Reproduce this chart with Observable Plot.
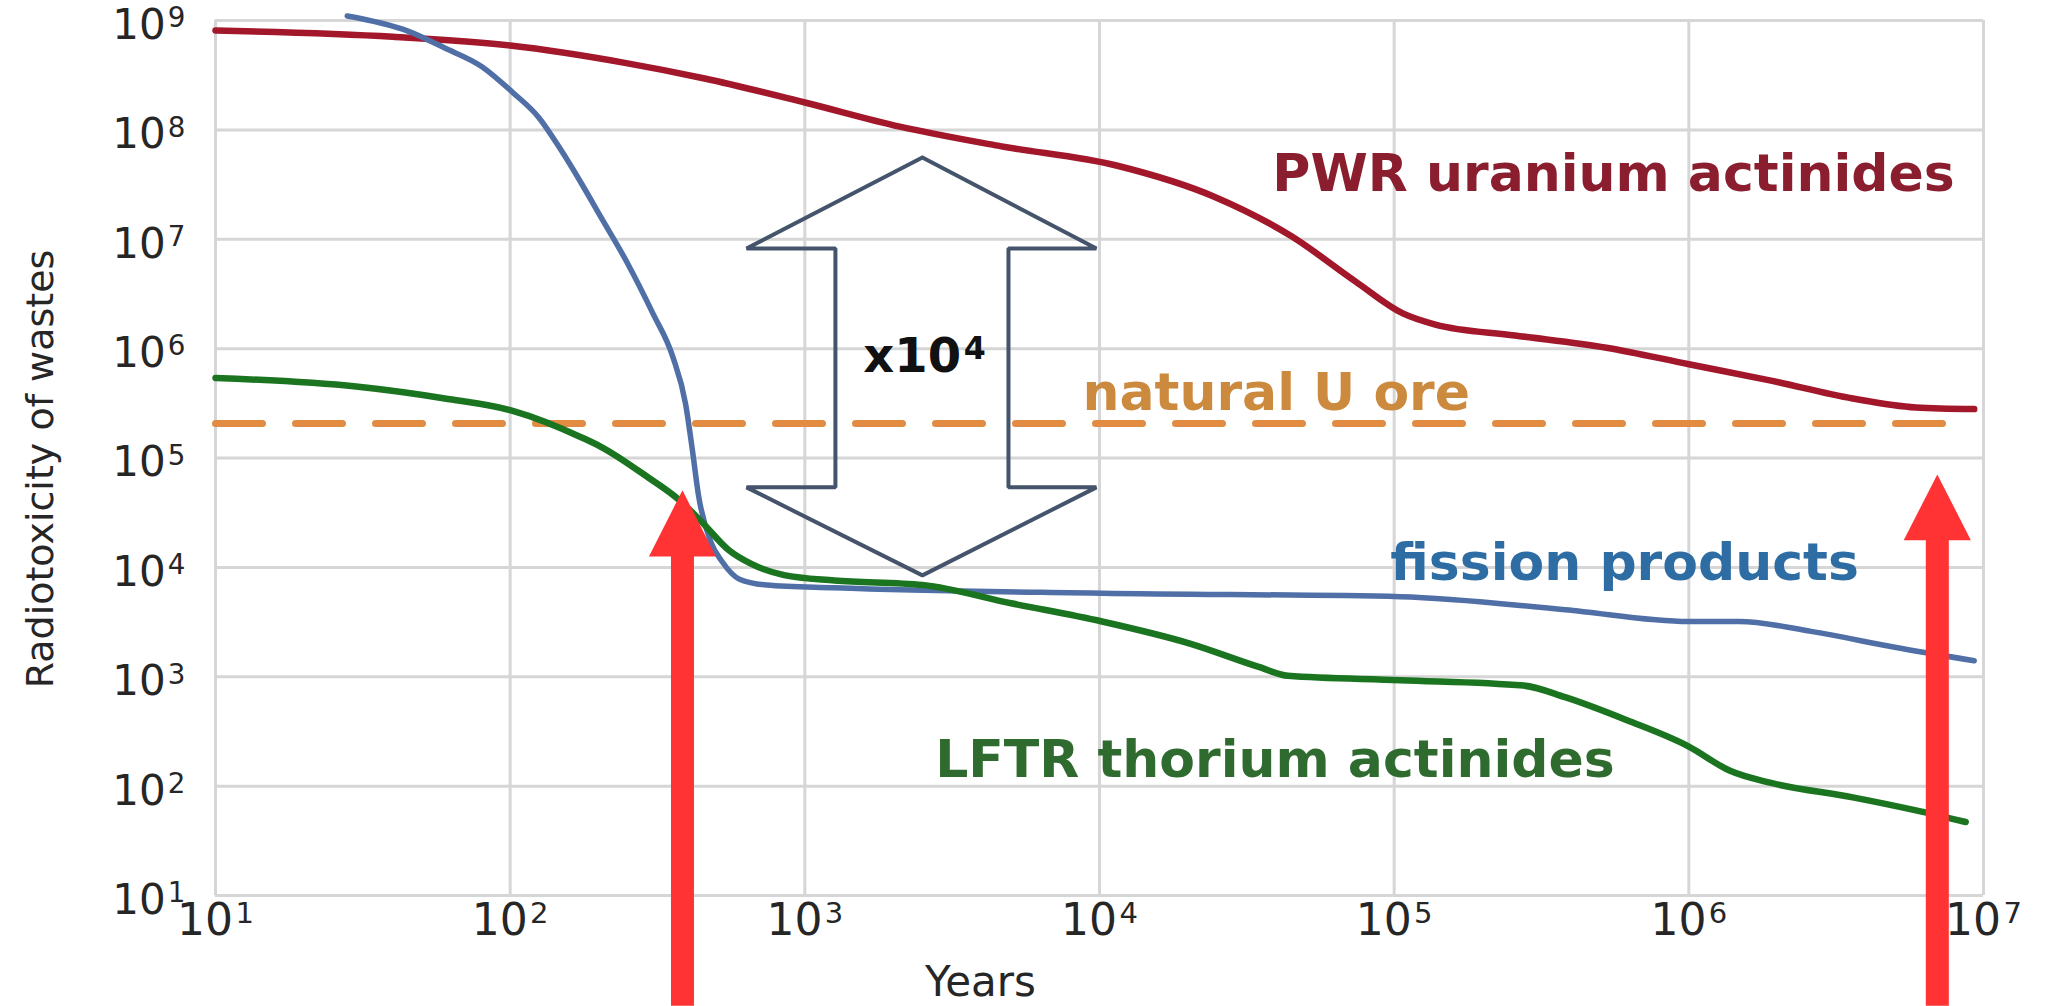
<!DOCTYPE html>
<html><head><meta charset="utf-8">
<script src="https://cdn.jsdelivr.net/npm/d3@7"></script>
<script src="https://cdn.jsdelivr.net/npm/@observablehq/plot@0.6"></script>
<style>body{margin:0;background:#fff;} #chart svg{display:block;}</style>
</head><body><div id="chart"></div>
<script>
// ---- data ----
const xTicks = [1e1, 1e2, 1e3, 1e4, 1e5, 1e6, 1e7];
const yTicks = [1e1, 1e2, 1e3, 1e4, 1e5, 1e6, 1e7, 1e8, 1e9];

const pwrYears  = [10, 40, 100, 245, 457, 1000, 2100, 4600, 11500, 24500, 44700, 74000, 107000, 138000, 257000, 525000, 1000000, 1900000, 3600000, 5900000, 9300000];
const pwrValues = [8.1e8, 7.1e8, 5.9e8, 4.1e8, 2.95e8, 1.78e8, 1.07e8, 7.1e7, 4.7e7, 2.45e7, 1.07e7, 4.1e6, 2.1e6, 1.66e6, 1.32e6, 1.02e6, 7.2e5, 5.1e5, 3.5e5, 2.9e5, 2.8e5];

const fissionYears  = [28, 45, 60, 80, 102, 125, 149, 175, 203, 248, 305, 356, 394, 415, 436, 480, 525, 600, 741, 1260, 10200, 105000, 380000, 1000000, 1480000, 2600000, 5000000, 9300000];
const fissionValues = [1.1e9, 8.0e8, 5.6e8, 3.8e8, 2.2e8, 1.3e8, 6.5e7, 3.2e7, 1.6e7, 6.3e6, 2.1e6, 8.5e5, 3.1e5, 1.2e5, 4.5e4, 1.7e4, 1.12e4, 7.8e3, 6.9e3, 6.5e3, 5.8e3, 5.4e3, 4.1e3, 3.2e3, 3.2e3, 2.6e3, 1.86e3, 1.4e3];

const lftrYears  = [10, 30, 60, 102, 174, 204, 295, 372, 447, 550, 661, 851, 1260, 2510, 5010, 10200, 20400, 34700, 43600, 105000, 275000, 380000, 617000, 1000000, 1380000, 1900000, 3600000, 5900000, 8700000];
const lftrValues = [5.4e5, 4.5e5, 3.5e5, 2.7e5, 1.55e5, 1.26e5, 6.6e4, 4.2e4, 2.6e4, 1.45e4, 1.07e4, 8.5e3, 7.6e3, 6.9e3, 4.7e3, 3.2e3, 2.0e3, 1.23e3, 1.02e3, 930, 830, 650, 400, 230, 138, 107, 79, 60, 47];

const oreYears  = [10, 7.6e6];
const oreValues = [2.07e5, 2.07e5];

// annotation geometry in data space (years, radiotoxicity)
const bigArrowYears  = [2506, 9760, 4910, 4910, 9760, 2506, 634, 1270, 1270, 634, 2506];
const bigArrowValues = [5.59e7, 8.24e6, 8.24e6, 5.39e4, 5.39e4, 8.45e3, 5.39e4, 5.39e4, 8.24e6, 8.24e6, 5.59e7];

const redArrowYears   = [384.4, 6.97e6];
const redArrowBase    = [0.97, 0.97];
const redArrowNeck    = [1.26e4, 1.77e4];
const redHeadLeft     = [295.8, 5.36e6];
const redHeadRight    = [499, 9.06e6];
const redArrowTip     = [5.06e4, 7.08e4];

const labels = [
  {text: "PWR uranium actinides", year: 38600, value: 3.96e7, color: "#8a1e2e"},
  {text: "natural U ore", year: 8750, value: 3.87e5, color: "#cc8a3e"},
  {text: "fission products", year: 97000, value: 1.08e4, color: "#2e6da4"},
  {text: "LFTR thorium actinides", year: 2770, value: 171, color: "#2f6b2f"}
];
const factorLabel = {text: "x10^4", year: 1580, value: 8.4e5};

// ---- tables ----
const toRows = (xs, ys) => xs.map((x, i) => ({year: x, value: ys[i]}));
const pwr = toRows(pwrYears, pwrValues);
const fission = toRows(fissionYears, fissionValues);
const lftr = toRows(lftrYears, lftrValues);
const ore = toRows(oreYears, oreValues);
const bigArrow = toRows(bigArrowYears, bigArrowValues);
const redShafts = redArrowYears.map((x, i) => ({year: x, y1: redArrowBase[i], y2: redArrowNeck[i] * 1.02}));
const redHeads = redArrowYears.map((x, i) => [
  {year: redHeadLeft[i], value: redArrowNeck[i], k: i},
  {year: x, value: redArrowTip[i], k: i},
  {year: redHeadRight[i], value: redArrowNeck[i], k: i}
]).flat();

const fmt = d => "10^" + Math.round(Math.log10(d));

const chart = Plot.plot({
  width: 2046,
  height: 1006,
  marginLeft: 215,
  marginRight: 63,
  marginTop: 20,
  marginBottom: 111,
  style: {fontFamily: "'DejaVu Sans', sans-serif", background: "#fff", color: "#262626", overflow: "visible"},
  x: {type: "log", domain: [10, 1e7]},
  y: {type: "log", domain: [10, 1e9]},
  marks: [
    Plot.ruleX(xTicks, {stroke: "#d6d6d6", strokeWidth: 3}),
    Plot.ruleY(yTicks, {stroke: "#d6d6d6", strokeWidth: 3}),
    Plot.axisY({ticks: yTicks, tickSize: 0, tickPadding: 30, tickFormat: fmt, fontSize: 42, dy: 5, label: null}),
    Plot.axisX({ticks: xTicks, tickSize: 0, tickPadding: 8, tickFormat: fmt, fontSize: 44, label: null}),
    Plot.line(ore, {x: "year", y: "value", stroke: "#e38a43", strokeWidth: 7, strokeDasharray: "47,33"}),
    Plot.line(pwr, {x: "year", y: "value", stroke: "#a3172b", strokeWidth: 6.5, curve: "monotone-x"}),
    Plot.line(fission, {x: "year", y: "value", stroke: "#4f6fa6", strokeWidth: 5.5, curve: "monotone-x"}),
    Plot.line(lftr, {x: "year", y: "value", stroke: "#1b7520", strokeWidth: 6.5, curve: "monotone-x"}),
    Plot.line(bigArrow, {x: "year", y: "value", stroke: "#44546a", strokeWidth: 4, strokeLinejoin: "miter"}),
    Plot.text(labels, {x: "year", y: "value", text: "text", fill: "color", fontSize: 52, fontWeight: "bold", textAnchor: "start", lineAnchor: "middle"}),
    Plot.text([factorLabel], {x: "year", y: "value", text: "text", fill: "#111", fontSize: 48, fontWeight: "bold", textAnchor: "start", lineAnchor: "middle"}),
    Plot.text(["Radiotoxicity of wastes"], {text: d => d, frameAnchor: "left", textAnchor: "middle", lineAnchor: "middle", rotate: -90, dx: -175, dy: 11, fontSize: 38, fill: "#262626"}),
    Plot.text(["Years"], {text: d => d, frameAnchor: "bottom", textAnchor: "middle", lineAnchor: "middle", dx: -119, dy: 87, fontSize: 42, fill: "#262626"}),
    Plot.ruleX(redShafts, {x: "year", y1: "y1", y2: "y2", stroke: "#ff3333", strokeWidth: 23}),
    Plot.line(redHeads, {x: "year", y: "value", z: "k", fill: "#ff3333", stroke: "none"})
  ]
});

// superscript exponents: "10^3" -> 10 + raised 3
const ns = "http://www.w3.org/2000/svg";
chart.querySelectorAll("text").forEach(t => {
  const m = (t.textContent || "").match(/^(.*)\^(\d+)$/);
  if (!m) return;
  while (t.firstChild) t.removeChild(t.firstChild);
  const base = document.createElementNS(ns, "tspan");
  base.textContent = m[1];
  const sup = document.createElementNS(ns, "tspan");
  sup.textContent = m[2];
  sup.setAttribute("font-size", "0.66em");
  sup.setAttribute("dy", "-0.42em");
  sup.setAttribute("dx", "0.08em");
  t.append(base, sup);
});

document.getElementById("chart").append(chart);
</script>
</body></html>
